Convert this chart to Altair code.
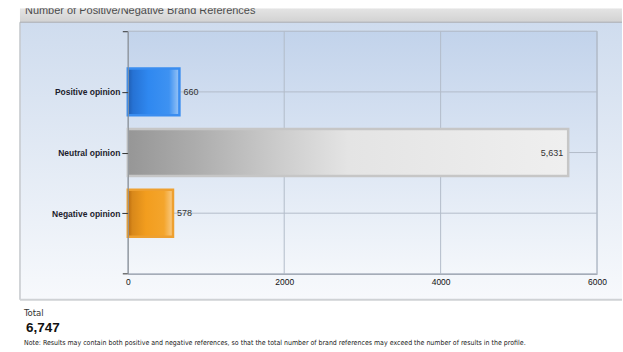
import altair as alt
import pandas as pd

# ---- data ----
categories = ["Positive opinion", "Neutral opinion", "Negative opinion"]
values = [660, 5631, 578]
x_ticks = [0, 2000, 4000, 6000]
title_text = "Number of Positive/Negative Brand References"
total_label = "Total"
total_value = "6,747"
note_text = ("Note: Results may contain both positive and negative references, so that the total "
             "number of brand references may exceed the number of results in the profile.")

W, H = 470, 243
SANS = "Liberation Sans, Arial, sans-serif"
COND = "DejaVu Sans Condensed, sans-serif"

df = pd.DataFrame({"cat": categories, "val": values})
one = pd.DataFrame({"d": [0]})
grid_df = pd.DataFrame({"t": x_ticks[1:]})

def grad(stops, vertical=False):
    return alt.Gradient(
        gradient="linear",
        stops=[alt.GradientStop(color=c, offset=o) for o, c in stops],
        x1=0, y1=0, x2=0 if vertical else 1, y2=1 if vertical else 0,
    )

xscale = alt.Scale(domain=[0, 6000], nice=False, zero=True)
yscale = alt.Scale(type="point", padding=1, domain=categories)

# background pieces
page = alt.Chart(one).mark_rect(color="white").encode(
    x=alt.value(-128), x2=alt.value(495), y=alt.value(-31), y2=alt.value(321))
panel = alt.Chart(one).mark_rect(
    color=grad([(0, "#cfdcee"), (1, "#f7f9fc")], vertical=True)).encode(
    x=alt.value(-108), x2=alt.value(495), y=alt.value(-9), y2=alt.value(269))
panel_left = alt.Chart(one).mark_rule(color="#c4c8cc", strokeWidth=1.5).encode(
    x=alt.value(-108), y=alt.value(-9), y2=alt.value(269))
panel_bottom = alt.Chart(one).mark_rule(color="#cfd2d5", strokeWidth=2).encode(
    x=alt.value(-108), x2=alt.value(495), y=alt.value(269))
titlebar = alt.Chart(one).mark_rect(
    color=grad([(0, "#e4e4e4"), (1, "#d2d2d2")], vertical=True)).encode(
    x=alt.value(-108), x2=alt.value(495), y=alt.value(-23), y2=alt.value(-9))
titlebar_line = alt.Chart(one).mark_rule(color="#a9adb2", strokeWidth=1).encode(
    x=alt.value(-108), x2=alt.value(495), y=alt.value(-9))
title = alt.Chart(one).mark_text(
    text=title_text, align="left", baseline="alphabetic", font=SANS,
    fontSize=11, color="#4a4a4a").encode(x=alt.value(-103), y=alt.value(-17))
cover = alt.Chart(one).mark_rect(color="white").encode(
    x=alt.value(-128), x2=alt.value(495), y=alt.value(-31), y2=alt.value(-23))

plotbg = alt.Chart(one).mark_rect(
    color=grad([(0, "#c2d3eb"), (1, "#f4f7fb")], vertical=True),
    stroke="#aeb7c4", strokeWidth=1).encode(
    x=alt.value(0), x2=alt.value(W), y=alt.value(0), y2=alt.value(H))

vgrid = alt.Chart(grid_df).mark_rule(color="#b3bcc9", strokeWidth=1).encode(
    x=alt.X("t:Q", scale=xscale), y=alt.value(0), y2=alt.value(H))
hgrid = alt.Chart(df).mark_rule(color="#b3bcc9", strokeWidth=1).encode(
    y=alt.Y("cat:N", scale=yscale, sort=categories), x=alt.value(0), x2=alt.value(W))

# small end stubs of the value axis
stub_top = alt.Chart(one).mark_rule(color="#333", strokeWidth=1).encode(
    x=alt.value(-5), x2=alt.value(0), y=alt.value(0.5))
stub_bot = alt.Chart(one).mark_rule(color="#333", strokeWidth=1).encode(
    x=alt.value(-5), x2=alt.value(0), y=alt.value(H))

styles = {
    "Positive opinion": dict(
        fill=[(0, "#1f5cb0"), (0.1, "#2672d4"), (0.4, "#2f88f0"), (0.8, "#3e92f2"), (1, "#9cc6f6")],
        stroke="#3a8df0"),
    "Neutral opinion": dict(
        fill=[(0, "#969696"), (0.15, "#acacac"), (0.35, "#cdcdcd"), (0.5, "#e4e4e4"), (1, "#efefef")],
        stroke="#c6c6c6"),
    "Negative opinion": dict(
        fill=[(0, "#b8690c"), (0.1, "#d8881a"), (0.4, "#f29d1e"), (0.8, "#f4a52c"), (1, "#f9cc88")],
        stroke="#eea030"),
}

bars = []
for c in categories:
    s = styles[c]
    bars.append(
        alt.Chart(df).transform_filter(alt.datum.cat == c).mark_bar(
            size=47, color=grad(s["fill"]), stroke=s["stroke"], strokeWidth=2.5
        ).encode(
            x=alt.X("val:Q", scale=xscale,
                    axis=alt.Axis(values=x_ticks, title=None, grid=False, ticks=False,
                                  labelFont=SANS, labelFontSize=8.5, labelColor="#111",
                                  labelPadding=4, domainColor="#9aa2ad", zindex=1,
                                  labelFlush=False, format="d")),
            y=alt.Y("cat:N", scale=yscale, sort=categories,
                    axis=alt.Axis(title=None, grid=False, tickSize=6, tickColor="#333",
                                  labelFont=SANS, labelFontSize=8.5, labelFontWeight="bold",
                                  labelColor="#1c1c2c", labelPadding=2,
                                  domainColor="#8a8f96", zindex=1)),
        )
    )

lab_out = alt.Chart(df).transform_filter(alt.datum.cat != "Neutral opinion").mark_text(
    align="left", dx=4, font=SANS, fontSize=9, color="#333").encode(
    x=alt.X("val:Q", scale=xscale), y=alt.Y("cat:N", scale=yscale, sort=categories),
    text=alt.Text("val:Q", format=",d"))
lab_in = alt.Chart(df).transform_filter(alt.datum.cat == "Neutral opinion").mark_text(
    align="right", dx=-5, font=SANS, fontSize=9, color="#333").encode(
    x=alt.X("val:Q", scale=xscale), y=alt.Y("cat:N", scale=yscale, sort=categories),
    text=alt.Text("val:Q", format=",d"))

t_total = alt.Chart(one).mark_text(
    text=total_label, align="left", font=COND, fontSize=9.5, color="#333",
    baseline="alphabetic").encode(x=alt.value(-104), y=alt.value(285))
t_value = alt.Chart(one).mark_text(
    text=total_value, align="left", font=SANS, fontSize=13.5, fontWeight="bold", color="#111",
    baseline="alphabetic").encode(x=alt.value(-102), y=alt.value(301))
t_note = alt.Chart(one).mark_text(
    text=note_text, align="left", font=COND, fontSize=7, color="#222",
    baseline="alphabetic").encode(x=alt.value(-104), y=alt.value(314))

chart = alt.layer(
    page, panel, panel_left, panel_bottom, titlebar, titlebar_line, title, cover,
    plotbg, vgrid, hgrid, stub_top, stub_bot, *bars, lab_out, lab_in, t_total, t_value, t_note
).properties(width=W, height=H, padding=0).configure_view(stroke=None).configure(background="white")

chart.save("out.html", embed_options={"renderer": "svg", "actions": False})
